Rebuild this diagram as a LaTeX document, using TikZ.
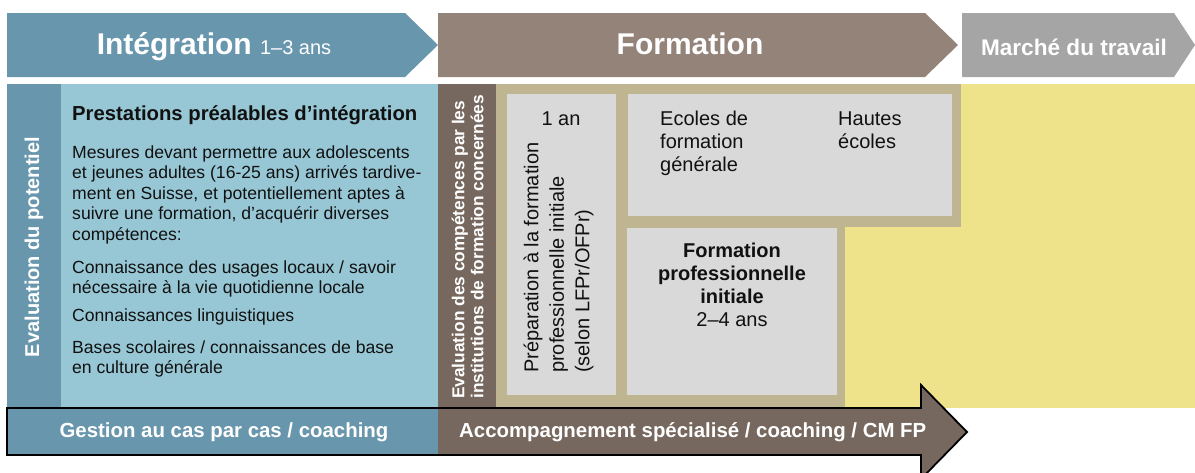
\documentclass[tikz,border=0pt]{standalone}
\usepackage{fontspec}
\setmainfont{Liberation Sans}
\definecolor{intblue}{HTML}{6896AC}
\definecolor{lightblue}{HTML}{97C7D5}
\definecolor{formbrown}{HTML}{948379}
\definecolor{darkbrown}{HTML}{76685F}
\definecolor{tan}{HTML}{C0B591}
\definecolor{boxgrey}{HTML}{D9D9D9}
\definecolor{yellowbg}{HTML}{EEE38B}
\definecolor{marchegrey}{HTML}{A5A5A5}
\definecolor{txt}{HTML}{111111}
\begin{document}
\begin{tikzpicture}[x=1pt,y=-1pt,
  every node/.style={inner sep=0pt, text=txt},
  bodytext/.style={font=\fontsize{17.6}{20.5}\selectfont, align=left, anchor=base west},
  boxtext/.style={font=\fontsize{20}{23.3}\selectfont},
  whitehead/.style={text=white, font=\bfseries\fontsize{30}{34}\selectfont},
  whitebar/.style={text=white, font=\bfseries\fontsize{20.4}{24}\selectfont},
  greybox/.style={fill=boxgrey}
]
\useasboundingbox (0,0) rectangle (1195,472);
\clip (0,0) rectangle (1195,472);

% ---- top chevrons
\fill[intblue] (7,13) -- (405,13) -- (438,45) -- (405,77) -- (7,77) -- cycle;
\fill[formbrown] (438,13) -- (925,13) -- (958,45) -- (925,77) -- (438,77) -- cycle;
\fill[marchegrey] (962,13) -- (1174,13) -- (1195,45) -- (1174,77) -- (962,77) -- cycle;
\node[whitehead, anchor=base] (tint) at (214,54) {Intégration {\mdseries\fontsize{20}{24}\selectfont 1–3 ans}};
\node[whitehead, anchor=base] (tform) at (690,54) {Formation};
\node[whitebar, font=\bfseries\fontsize{22.6}{26}\selectfont, anchor=base] (tmarche) at (1074,55) {Marché du travail};

% ---- main panels
\fill[intblue] (7,84) rectangle (61,408);
\fill[lightblue] (61,84) rectangle (438,408);
\fill[darkbrown] (438,84) rectangle (496,408);
\fill[tan] (496,84) rectangle (961,408);
\fill[yellowbg] (961,84) rectangle (1195,408);
\fill[yellowbg] (845,227) rectangle (961,408);

\fill[greybox] (507,94) rectangle (616,395);
\fill[greybox] (628,94) rectangle (952,216);
\fill[greybox] (627,228) rectangle (837,395);

% ---- left texts
\node[text=white, font=\bfseries\fontsize{20}{24}\selectfont, rotate=90] (evalpot) at (34,247) {Evaluation du potentiel};
\node[anchor=base west, font=\bfseries\fontsize{20.3}{24}\selectfont] (prest) at (72,120.5) {Prestations préalables d’intégration};
\node[bodytext] (mesures) at (72,240) {Mesures devant permettre aux adolescents\\et jeunes adultes (16-25 ans) arrivés tardive-\\ment en Suisse, et potentiellement aptes à\\suivre une formation, d’acquérir diverses\\compétences:};
\node[bodytext] (usages) at (72,293.5) {Connaissance des usages locaux / savoir\\nécessaire à la vie quotidienne locale};
\node[bodytext] (ling) at (72,321) {Connaissances linguistiques};
\node[bodytext] (bases) at (72,373.5) {Bases scolaires / connaissances de base\\en culture générale};

% ---- formation texts
\node[text=white, font=\bfseries\fontsize{17.3}{19}\selectfont, align=left, rotate=90, anchor=west] (evalcomp) at (467.5,399) {Evaluation des compétences par les\\institutions de formation concernées};
\node[boxtext, anchor=base] (unan) at (561,125) {1 an};
\node[boxtext, font=\fontsize{20}{25.5}\selectfont, align=left, rotate=90, anchor=west] (prep) at (558.5,373) {Préparation à la formation\\professionnelle initiale\\(selon LFPr/OFPr)};
\node[boxtext, align=left, anchor=base west] (ecoles) at (660,171.6) {Ecoles de\\formation\\générale};
\node[boxtext, align=left, anchor=base west] (hautes) at (838,148.3) {Hautes\\écoles};
\node[boxtext, align=center, anchor=base] (fpi) at (732,326.9) {\textbf{Formation}\\\textbf{professionnelle}\\\textbf{initiale}\\2–4 ans};

% ---- bottom arrow
\fill[intblue] (7,408) rectangle (438,455);
\fill[darkbrown] (438,408) -- (921,408) -- (921,385) -- (967,432) -- (921,479) -- (921,455) -- (438,455) -- cycle;
\draw[black, line width=1.8pt, line join=miter] (7,408) -- (921,408) -- (921,385) -- (967,432) -- (921,479) -- (921,455) -- (7,455) -- cycle;
\node[whitebar, anchor=base] (gestion) at (224,437) {Gestion au cas par cas / coaching};
\node[whitebar, anchor=base west] (accomp) at (459,437) {Accompagnement spécialisé / coaching / CM FP};
\end{tikzpicture}
\end{document}
